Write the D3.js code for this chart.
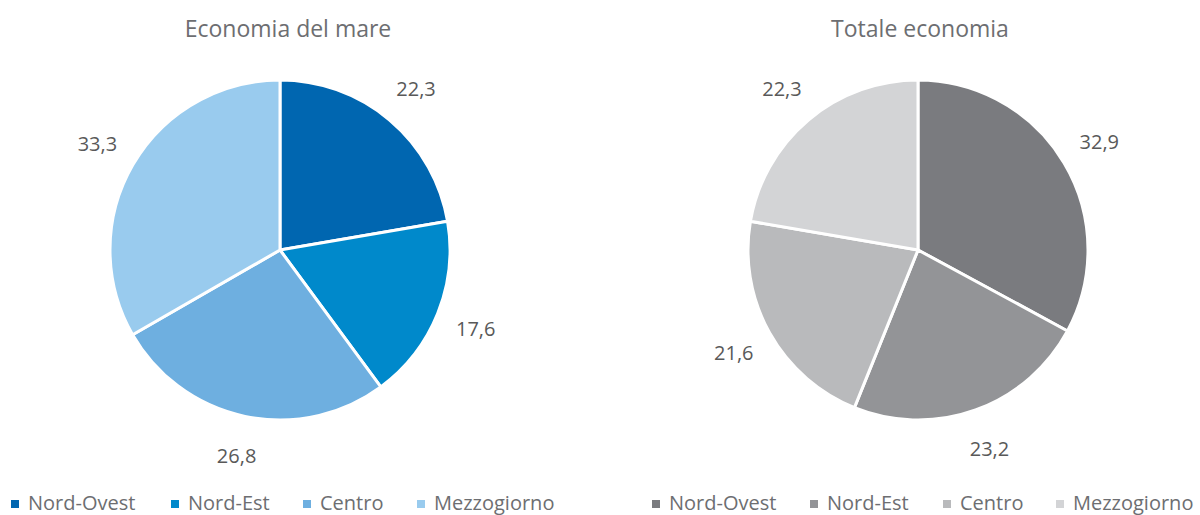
<!DOCTYPE html>
<html><head><meta charset="utf-8">
<script src="https://cdn.jsdelivr.net/npm/d3@7"></script>
<style>body{margin:0;background:#fff}svg{display:block}</style>
</head><body>
<svg id="c" width="1200" height="515"></svg>
<script>
const categories = ["Nord-Ovest", "Nord-Est", "Centro", "Mezzogiorno"];
const mareValues = [22.3, 17.6, 26.8, 33.3];
const totaleValues = [32.9, 23.2, 21.6, 22.3];
const titles = ["Economia del mare", "Totale economia"];
const mareColors = ["#0066b0", "#0089cb", "#6eafe0", "#99cbee"];
const totaleColors = ["#7a7b7f", "#939497", "#b9babc", "#d3d4d6"];

const svg = d3.select("#c");
const font = "'Open Sans', sans-serif";
const R = 170, LR = 211;

const charts = [
  {cx: 280, cy: 250, values: mareValues, colors: mareColors, title: titles[0], tx: 288,
   legendX: [11, 171, 303, 417]},
  {cx: 918, cy: 250, values: totaleValues, colors: totaleColors, title: titles[1], tx: 920,
   legendX: [652, 810, 943, 1056]}
];

const pie = d3.pie().sort(null).value(d => d);
const arc = d3.arc().innerRadius(0).outerRadius(R);
const labelArc = d3.arc().innerRadius(LR).outerRadius(LR);
const fmt = v => d3.format(".1f")(v).replace(".", ",");

charts.forEach(ch => {
  const g = svg.append("g").attr("transform", `translate(${ch.cx},${ch.cy})`);
  const arcs = pie(ch.values);
  g.selectAll("path").data(arcs).join("path")
    .attr("d", arc)
    .attr("fill", (d, i) => ch.colors[i])
    .attr("stroke", "#fff").attr("stroke-width", 3).attr("stroke-linejoin", "round");
  g.selectAll("text.lbl").data(arcs).join("text").attr("class", "lbl")
    .attr("transform", d => `translate(${labelArc.centroid(d)})`)
    .attr("text-anchor", "middle").attr("dy", "0.35em")
    .attr("font-family", font).attr("font-size", 20).attr("fill", "#595959")
    .text(d => fmt(d.data));
  svg.append("text").attr("x", ch.tx).attr("y", 37).attr("text-anchor", "middle")
    .attr("font-family", font).attr("font-size", 23).attr("fill", "#6d6e71")
    .text(ch.title);
  const lg = svg.append("g");
  categories.forEach((c, i) => {
    const x = ch.legendX[i];
    lg.append("rect").attr("x", x).attr("y", 500).attr("width", 8).attr("height", 8)
      .attr("fill", ch.colors[i]);
    lg.append("text").attr("x", x + 17).attr("y", 510)
      .attr("font-family", font).attr("font-size", 20).attr("fill", "#6d6e71")
      .text(c);
  });
});
</script>
</body></html>
